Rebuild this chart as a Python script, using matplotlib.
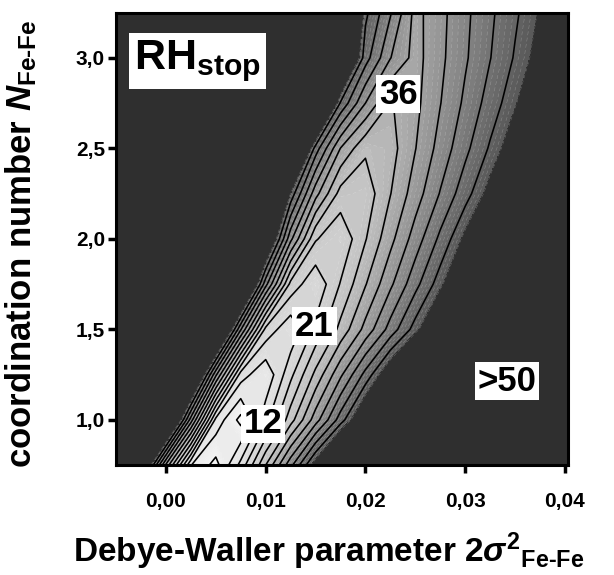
import numpy as np
import matplotlib
matplotlib.use("Agg")
import matplotlib.pyplot as plt
from matplotlib.colors import LinearSegmentedColormap

# RH_stop map; columns = 2*sigma^2, rows = N(Fe-Fe)
# (99 just means "well above 50", the dark saturated area)
sigma2 = np.array([-0.005, -0.0025, 0.0, 0.0025, 0.005, 0.0075, 0.01, 0.0125,
                   0.015, 0.0175, 0.02, 0.0225, 0.025, 0.0275, 0.03, 0.0325,
                   0.035, 0.0375, 0.04, 0.0425])
n_fefe = np.array([0.75, 1.0, 1.25, 1.5, 1.75, 2.0, 2.25, 2.5, 2.75, 3.0, 3.25])
rh_stop = np.array([
    [85, 60, 35.4, 15.1, 10.9, 18.9, 30.0, 41.1, 52.2, 63.3, 74.4, 85.6, 96.7, 99, 99, 99, 99, 99, 99, 99],
    [99, 90, 65, 40.6, 17.0, 11.0, 19.9, 28.7, 37.6, 46.5, 55.3, 64.2, 73.1, 81.9, 90.8, 99, 99, 99, 99, 99],
    [99, 99, 88, 63, 39.7, 19.5, 15.5, 23.2, 30.8, 38.4, 46.0, 53.7, 61.3, 68.9, 76.6, 84.2, 91.8, 99, 99, 99],
    [99, 99, 99, 90, 65, 42.3, 23.0, 18.7, 24.8, 30.9, 37.0, 43.2, 49.3, 55.4, 61.5, 67.6, 73.7, 79.8, 85.9, 92.0],
    [99, 99, 99, 99, 90, 65, 43.1, 26.0, 21.6, 27.2, 32.8, 38.4, 44.0, 49.6, 55.2, 60.7, 66.3, 71.9, 77.5, 83.1],
    [99, 99, 99, 99, 99, 83, 58, 39.8, 27.3, 24.5, 29.8, 35.1, 40.4, 45.7, 51.1, 56.4, 61.7, 67.0, 72.4, 77.7],
    [99, 99, 99, 99, 99, 99, 75, 50.0, 37.1, 28.8, 28.2, 32.9, 37.5, 42.2, 46.8, 51.5, 56.1, 60.8, 65.4, 70.1],
    [99, 99, 99, 99, 99, 99, 92, 67, 46.6, 35.9, 30.5, 31.8, 35.9, 40.1, 44.2, 48.4, 52.5, 56.6, 60.8, 64.9],
    [99, 99, 99, 99, 99, 99, 99, 93, 68, 47.6, 39.0, 32.7, 35.2, 38.9, 42.6, 46.3, 50.0, 53.7, 57.4, 61.1],
    [99, 99, 99, 99, 99, 99, 99, 99, 87, 62, 46.3, 39.1, 34.9, 38.3, 41.6, 44.9, 48.3, 51.6, 54.9, 58.3],
    [99, 99, 99, 99, 99, 99, 99, 99, 95, 70, 48.7, 42.3, 35.0, 38.1, 41.3, 44.4, 47.5, 50.6, 53.8, 56.9],
])

xticks = [0.0, 0.01, 0.02, 0.03, 0.04]
xtick_labels = ["0,00", "0,01", "0,02", "0,03", "0,04"]
yticks = [1.0, 1.5, 2.0, 2.5, 3.0]
ytick_labels = ["1,0", "1,5", "2,0", "2,5", "3,0"]
marks = ["12", "21", "36", ">50"]
mark_x = [0.0097, 0.0149, 0.0233, 0.0342]
mark_y = [0.978, 1.518, 2.80, 1.215]

plt.rcParams.update({
    "font.family": "Liberation Sans", "font.weight": "bold",
    "axes.labelweight": "bold",
    "mathtext.fontset": "custom",
    "mathtext.rm": "Liberation Sans:bold",
    "mathtext.bf": "Liberation Sans:bold",
    "mathtext.it": "Liberation Sans:bold:italic",
})
DARK = "#2f2f2f"

# fill every 0.75, solid black line every 3, faint dashed line in between
levels = 9.0 + 0.75 * np.arange(56)
major = 12.0 + 3.0 * np.arange(13)          # 12 ... 48
minor = np.array([l for l in levels if np.min(np.abs(major - l)) > 0.1])
cmap = LinearSegmentedColormap.from_list("rh", ["#fbfbfb", "#c2c2c2", "#585858"])
cmap.set_over(DARK)

fig = plt.figure(figsize=(6.14, 5.75), dpi=100)
ax = fig.add_axes([0.189, 0.191, 0.736, 0.787])
ax.set_facecolor(DARK)
ax.contourf(sigma2, n_fefe, rh_stop, levels=levels, cmap=cmap, extend="max")
ax.contour(sigma2, n_fefe, rh_stop, levels=minor, colors="white", alpha=0.3,
           linewidths=0.35, linestyles=[(0, (8, 5))])
ax.contour(sigma2, n_fefe, rh_stop, levels=major, colors="black", linewidths=1.15)

ax.set_xlim(-0.005, 0.0403)
ax.set_ylim(0.75, 3.25)
ax.set_xticks(xticks)
ax.set_xticklabels(xtick_labels)
ax.set_yticks(yticks)
ax.set_yticklabels(ytick_labels)
ax.tick_params(direction="out", length=6, width=2.5, labelsize=15)
ax.tick_params(axis="x", pad=13)
ax.tick_params(axis="y", pad=2)
for s in ax.spines.values():
    s.set_linewidth(2.2)

box = dict(boxstyle="square,pad=0.08", fc="white", ec="none")
for t, x, y in zip(marks, mark_x, mark_y):
    ax.text(x, y, t, fontsize=25, ha="center", va="center", bbox=box)
ax.text(0.18, 0.893, r"$\mathbf{RH}_{\mathbf{stop}}$", transform=ax.transAxes,
        fontsize=31, ha="center", va="center",
        bbox=dict(boxstyle="square,pad=0.12", fc="white", ec="none"))

ax.set_xlabel(r"Debye-Waller parameter 2$\sigma^{2}{}_{\mathrm{Fe\text{-}Fe}}$",
              fontsize=24)
ax.set_ylabel(r"coordination number $N_{\mathrm{Fe\text{-}Fe}}$", fontsize=25)
ax.xaxis.set_label_coords(0.47, -0.145)
ax.yaxis.set_label_coords(-0.17, 0.49)

fig.savefig("out.png", dpi=100, facecolor="white")
